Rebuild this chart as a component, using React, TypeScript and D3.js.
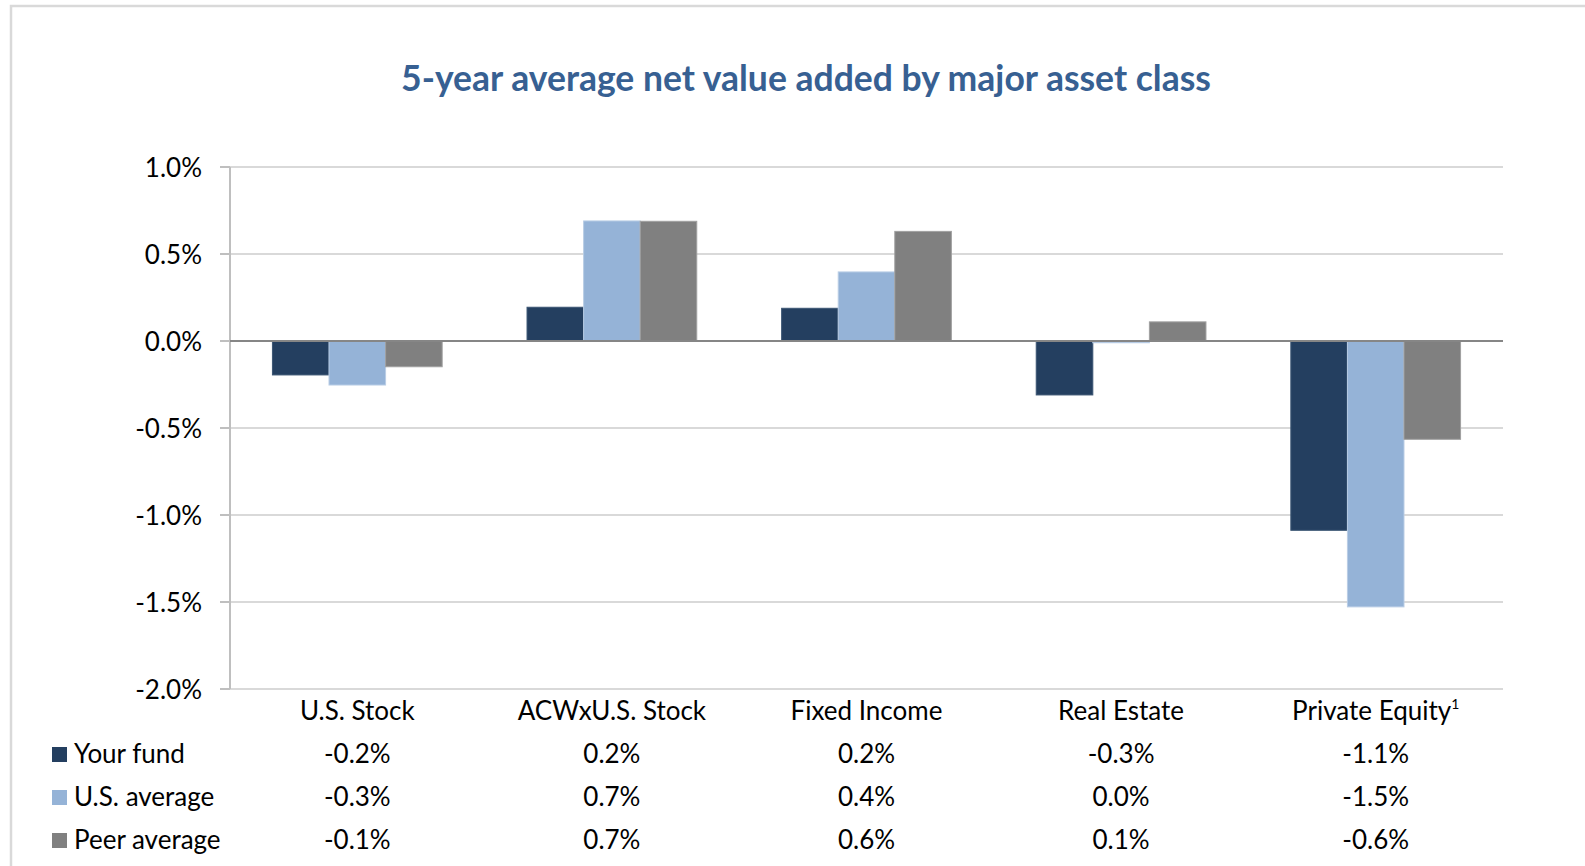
import React from "react";
import * as d3 from "d3";

const categories = ["U.S. Stock", "ACWxU.S. Stock", "Fixed Income", "Real Estate", "Private Equity"];
const footnotes = ["", "", "", "", "1"];
const seriesNames = ["Your fund", "U.S. average", "Peer average"];
const yourFund = [-0.195, 0.194, 0.188, -0.31, -1.088];
const usAverage = [-0.253, 0.69, 0.397, -0.01, -1.528];
const peerAverage = [-0.148, 0.688, 0.63, 0.11, -0.565];
const yTicks = [1.0, 0.5, 0.0, -0.5, -1.0, -1.5, -2.0];
const title = "5-year average net value added by major asset class";

const colors = ["#243F60", "#95B3D7", "#808080"];
const strokes = ["#3b5573", "#b9cde5", "#a0a0a0"];

const W = 1585;
const H = 866;
const FONT = "Lato, 'Open Sans', sans-serif";
const FS = 26;

export default function App() {
  const series = [yourFund, usAverage, peerAverage];
  const left = 230;
  const right = 1503;
  const top = 167;
  const bottom = 689;

  const y = d3.scaleLinear().domain([-2, 1]).range([bottom, top]);
  const x = d3.scaleBand<string>().domain(categories).range([left, right]).padding(0);
  const bw = x.bandwidth();
  const barW = bw / 4.5;
  const inner = d3
    .scaleBand<number>()
    .domain([0, 1, 2])
    .range([barW * 0.75, barW * 3.75])
    .padding(0);

  const fmt = (v: number) => {
    const r = Math.round(v * 10) / 10 + 0;
    return (Math.abs(r) < 1e-9 ? 0 : r).toFixed(1) + "%";
  };

  const rowBase = [763, 806, 849];

  return (
    <svg
      width={W}
      height={H}
      style={{ position: "absolute", left: 0, top: 0, background: "#fff" }}
      fontFamily={FONT}
    >
      <rect x={0} y={0} width={W} height={H} fill="#ffffff" />
      <rect x={11} y={6} width={W + 20} height={H + 20} fill="none" stroke="#d9d9d9" strokeWidth={2.5} />

      <text
        x={806}
        y={91}
        textAnchor="middle"
        fontSize={35.5}
        fontWeight={700}
        fill="#376092"
      >
        {title}
      </text>

      {/* gridlines */}
      {yTicks.map((t) => (
        <line
          key={"g" + t}
          x1={left}
          x2={right}
          y1={y(t)}
          y2={y(t)}
          stroke="#d9d9d9"
          strokeWidth={2}
        />
      ))}
      {/* y axis */}
      <line x1={left} x2={left} y1={top} y2={bottom} stroke="#bfbfbf" strokeWidth={2} />
      {yTicks.map((t) => (
        <g key={"t" + t}>
          <line x1={left - 10} x2={left} y1={y(t)} y2={y(t)} stroke="#bfbfbf" strokeWidth={2} />
          <text
            x={202}
            y={y(t) + 1}
            dy="0.35em"
            textAnchor="end"
            fontSize={FS}
            fill="#000"
          >
            {t.toFixed(1) + "%"}
          </text>
        </g>
      ))}

      {/* bars */}
      {categories.map((c, ci) =>
        series.map((s, si) => {
          const v = s[ci];
          const y0 = y(0);
          const y1 = y(v);
          return (
            <rect
              key={c + si}
              x={(x(c) as number) + (inner(si) as number)}
              y={Math.min(y0, y1)}
              width={inner.bandwidth()}
              height={Math.abs(y1 - y0)}
              fill={colors[si]}
              stroke={strokes[si]}
              strokeWidth={1}
            />
          );
        })
      )}

      {/* zero line */}
      <line x1={left} x2={right} y1={y(0)} y2={y(0)} stroke="#868686" strokeWidth={2} />

      {/* category labels */}
      {categories.map((c, ci) => (
        <text
          key={"c" + c}
          x={(x(c) as number) + bw / 2}
          y={720}
          textAnchor="middle"
          fontSize={FS}
          fill="#000"
        >
          {c}
          {footnotes[ci] ? (
            <tspan fontSize={14} dy={-11}>
              {footnotes[ci]}
            </tspan>
          ) : null}
        </text>
      ))}

      {/* data table */}
      {series.map((s, si) => (
        <g key={"row" + si}>
          <rect x={52} y={rowBase[si] - 16} width={15} height={15} fill={colors[si]} />
          <text x={74} y={rowBase[si]} fontSize={FS} fill="#000">
            {seriesNames[si]}
          </text>
          {categories.map((c, ci) => (
            <text
              key={"v" + si + c}
              x={(x(c) as number) + bw / 2}
              y={rowBase[si]}
              textAnchor="middle"
              fontSize={FS}
              fill="#000"
            >
              {fmt(s[ci])}
            </text>
          ))}
        </g>
      ))}
    </svg>
  );
}
